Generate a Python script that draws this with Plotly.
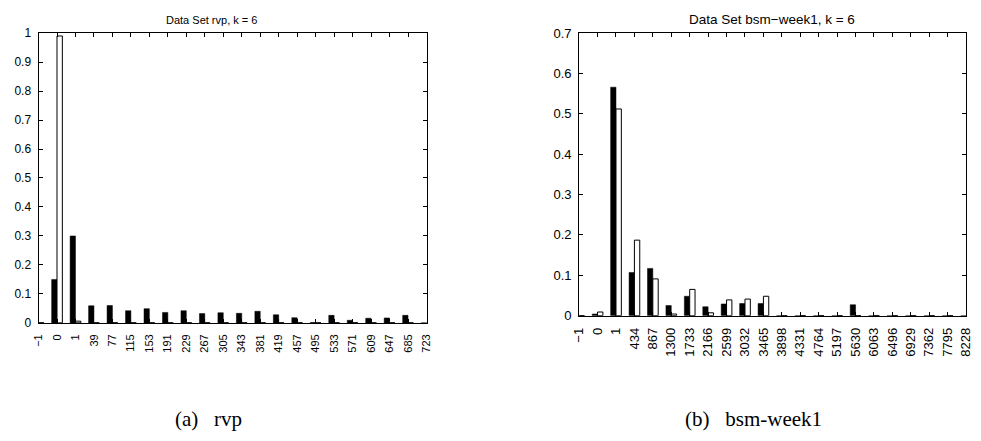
import plotly.graph_objects as go

# ---- data ----
rvp_labels = ["−1", "0", "1", "39", "77", "115", "153", "191", "229", "267", "305",
              "343", "381", "419", "457", "495", "533", "571", "609", "647", "685", "723"]
rvp_black = [0, 0.150, 0.300, 0.059, 0.060, 0.042, 0.049, 0.036, 0.042, 0.032, 0.035,
             0.033, 0.040, 0.028, 0.018, 0.001, 0.026, 0.009, 0.016, 0.017, 0.026, 0]
rvp_white = [0, 0.990, 0.006, 0, 0, 0, 0, 0, 0, 0, 0,
             0, 0, 0, 0, 0, 0, 0, 0, 0, 0, 0]

bsm_labels = ["−1", "0", "1", "434", "867", "1300", "1733", "2166", "2599", "3032", "3465",
              "3898", "4331", "4764", "5197", "5630", "6063", "6496", "6929", "7362", "7795", "8228"]
bsm_black = [0, 0.004, 0.566, 0.107, 0.117, 0.025, 0.048, 0.022, 0.029, 0.030, 0.030,
             0, 0, 0, 0, 0.027, 0, 0, 0, 0, 0, 0]
bsm_white = [0, 0.009, 0.512, 0.187, 0.091, 0.004, 0.065, 0.007, 0.039, 0.041, 0.048,
             0, 0, 0, 0, 0, 0, 0, 0, 0, 0, 0]

W, H = 981, 441
SANS = "Liberation Sans, Arial, Helvetica, sans-serif"
SERIF = "Liberation Serif, Times New Roman, serif"

rvp_x = list(range(len(rvp_labels)))
bsm_x = list(range(len(bsm_labels)))

fig = go.Figure()
fig.add_trace(go.Bar(x=rvp_x, y=rvp_black, xaxis="x", yaxis="y", offsetgroup="a",
                     marker=dict(color="black", line=dict(color="black", width=0.5)),
                     showlegend=False))
fig.add_trace(go.Bar(x=rvp_x, y=rvp_white, xaxis="x", yaxis="y", offsetgroup="b",
                     marker=dict(color="white", line=dict(color="black", width=1)),
                     showlegend=False))
fig.add_trace(go.Bar(x=bsm_x, y=bsm_black, xaxis="x2", yaxis="y2", offsetgroup="a",
                     marker=dict(color="black", line=dict(color="black", width=0.5)),
                     showlegend=False))
fig.add_trace(go.Bar(x=bsm_x, y=bsm_white, xaxis="x2", yaxis="y2", offsetgroup="b",
                     marker=dict(color="white", line=dict(color="black", width=1)),
                     showlegend=False))

def px_dom_x(a, b):
    return [a / W, b / W]

def px_dom_y(top, bottom):
    return [(H - bottom) / H, (H - top) / H]

common_axis = dict(showline=True, linecolor="black", linewidth=1, mirror="allticks",
                   ticks="inside", ticklen=4, tickcolor="black", showgrid=False,
                   zeroline=False)

fig.update_layout(
    width=W, height=H,
    margin=dict(l=0, r=0, t=0, b=0),
    paper_bgcolor="white", plot_bgcolor="white",
    barmode="group", bargap=0.42, bargroupgap=0,
    font=dict(family=SANS, color="black"),
    xaxis=dict(domain=px_dom_x(31, 425), anchor="y", range=[0, len(rvp_labels) - 1],
               tickmode="array", tickvals=rvp_x, ticktext=rvp_labels, tickangle=-90,
               tickfont=dict(size=11), ticklabelstandoff=6, **common_axis),
    yaxis=dict(domain=px_dom_y(27, 327), anchor="x", range=[0, 1], dtick=0.1,
               tickformat="~g", tickfont=dict(size=12), ticklabelstandoff=4, **common_axis),
    xaxis2=dict(domain=px_dom_x(580, 973), anchor="y2", range=[0, len(bsm_labels) - 1],
                tickmode="array", tickvals=bsm_x, ticktext=bsm_labels, tickangle=-90,
                tickfont=dict(size=13), ticklabelstandoff=6, **common_axis),
    yaxis2=dict(domain=px_dom_y(27, 319.5), anchor="x2", range=[0, 0.7], dtick=0.1,
                tickformat="~g", tickfont=dict(size=13), ticklabelstandoff=4, **common_axis),
)

annos = [
    dict(text="Data Set rvp, k = 6", x=207 / W, y=(H - 13) / H, font=dict(size=11, family=SANS)),
    dict(text="Data Set bsm−week1, k = 6", x=776 / W, y=(H - 13) / H, font=dict(size=13.5, family=SANS)),
    dict(text="(a)\u2002 rvp", x=204 / W, y=(H - 427) / H, font=dict(size=21, family=SERIF)),
    dict(text="(b)\u2002 bsm-week1", x=757 / W, y=(H - 427) / H, font=dict(size=21, family=SERIF)),
]
for a in annos:
    fig.add_annotation(xref="paper", yref="paper", showarrow=False,
                       xanchor="center", yanchor="middle", **a)

fig.write_html("out.html")
